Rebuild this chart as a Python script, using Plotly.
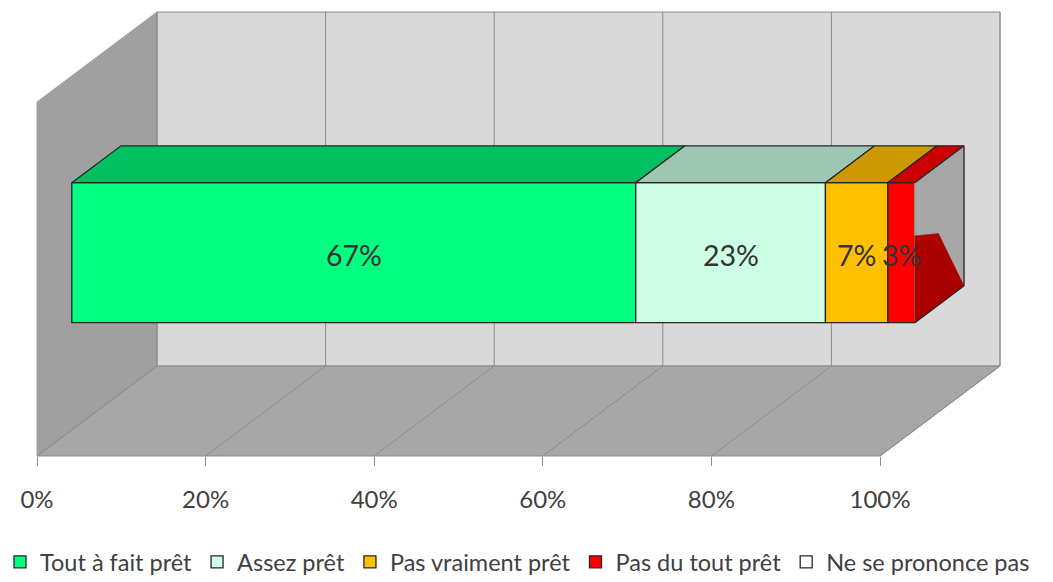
import plotly.graph_objects as go

# ---------------- data ----------------
categories = ["Tout à fait prêt", "Assez prêt", "Pas vraiment prêt",
              "Pas du tout prêt", "Ne se prononce pas"]
values = [66.9, 22.5, 7.4, 3.2, 0.0]
value_labels = ["67%", "23%", "7%", "3%", ""]
tick_vals = [0, 20, 40, 60, 80, 100]
tick_text = ["0%", "20%", "40%", "60%", "80%", "100%"]

# ---------------- style ----------------
front_colors = ["#00FF80", "#CCFFE6", "#FFC000", "#FF0000", "#FFFFFF"]
top_colors = ["#00C060", "#9EC7B3", "#CC9900", "#CC0000", "#DDDDDD"]
FONT = "Lato"
TEXT = "#404040"

W, H = 1053, 582
PX0 = 37.0          # pixel of 0 % on front edge of floor
PXU = 8.43          # pixels per percent
DEPTH_X = 120.0     # pixel shift of the full depth (x)
DEPTH_Y = 90.0      # pixel shift of the full depth (y, upward)
DXU = DEPTH_X / PXU
Y_FLOOR = 456.0     # floor front edge (front plane)
Y_TOP = 102.0       # wall top (front plane)
F_BAR0, F_BAR1 = 0.29, 0.70   # bar depth span
BAR_TOP, BAR_BOT = 182.7, 322.7

def P(v, y, f):
    return v + f * DXU, y - f * DEPTH_Y

x_range = [(0 - PX0) / PXU, (W - PX0) / PXU]
x2_range = [x_range[0] - F_BAR0 * DXU, x_range[1] - F_BAR0 * DXU]

fig = go.Figure()

def poly(pts, fill, line="#8C8C8C", lw=1, xa="x"):
    xs = [p[0] for p in pts] + [pts[0][0]]
    ys = [p[1] for p in pts] + [pts[0][1]]
    fig.add_trace(go.Scatter(x=xs, y=ys, mode="lines", fill="toself",
                             fillcolor=fill, line=dict(color=line, width=lw),
                             xaxis=xa, yaxis="y", showlegend=False,
                             hoverinfo="skip"))

def seg(p, q, color="#8C8C8C", lw=1, xa="x"):
    fig.add_trace(go.Scatter(x=[p[0], q[0]], y=[p[1], q[1]], mode="lines",
                             line=dict(color=color, width=lw), xaxis=xa,
                             yaxis="y", showlegend=False, hoverinfo="skip"))

vmin, vmax = tick_vals[0], tick_vals[-1]
# left wall
poly([P(vmin, Y_FLOOR, 0), P(vmin, Y_TOP, 0), P(vmin, Y_TOP, 1), P(vmin, Y_FLOOR, 1)],
     "#A0A0A0", line="#A0A0A0")
# back wall
poly([P(vmin, Y_FLOOR, 1), P(vmin, Y_TOP, 1), P(vmax, Y_TOP, 1), P(vmax, Y_FLOOR, 1)],
     "#D9D9D9")
# floor
poly([P(vmin, Y_FLOOR, 0), P(vmax, Y_FLOOR, 0), P(vmax, Y_FLOOR, 1), P(vmin, Y_FLOOR, 1)],
     "#A6A6A6")
# gridlines
for v in tick_vals:
    seg(P(v, Y_FLOOR, 1), P(v, Y_TOP, 1))
    seg(P(v, Y_FLOOR, 0), P(v, Y_FLOOR, 1))

# ---------------- bars (front faces) ----------------
bar_mid = (BAR_TOP + BAR_BOT) / 2
starts = []
cum = 0.0
for name, v, c in zip(categories, values, front_colors):
    starts.append(cum)
    fig.add_trace(go.Bar(x=[v], y=[bar_mid], base=[cum], orientation="h",
                         width=BAR_BOT - BAR_TOP, name=name,
                         marker=dict(color=c, line=dict(color="#262626", width=1.3)),
                         xaxis="x2", yaxis="y", hoverinfo="skip"))
    cum += v
total = cum

# top faces
dB = (F_BAR1 - F_BAR0) * DXU
dBy = (F_BAR1 - F_BAR0) * DEPTH_Y
for s, v, c in zip(starts, values, top_colors):
    if v <= 0:
        continue
    e = s + v
    poly([(s, BAR_TOP), (e, BAR_TOP), (e + dB, BAR_TOP - dBy), (s + dB, BAR_TOP - dBy)],
         c, line="#262626", lw=1.3, xa="x2")

# end face
end_pts = [(total, BAR_TOP), (total + dB, BAR_TOP - dBy),
           (total + dB, BAR_BOT - dBy), (total, BAR_BOT)]
poly(end_pts, "#A6A6A6", line="#A6A6A6", lw=1, xa="x2")
hh = BAR_BOT - BAR_TOP
def face(u, t):
    return (total + u * dB, BAR_TOP + t * hh - u * dBy)
poly([face(0, 0.38), face(0.48, 0.49), face(1, 1), face(0, 1)],
     "#AA0000", line="#AA0000", lw=0.5, xa="x2")
seg(end_pts[0], end_pts[1], "#262626", 1.3, "x2")
seg(end_pts[1], end_pts[2], "#262626", 1.3, "x2")
seg(end_pts[2], end_pts[3], "#262626", 1.3, "x2")

# value labels
for s, v, t in zip(starts, values, value_labels):
    if not t:
        continue
    fig.add_annotation(x=s + v / 2, y=bar_mid + 2, xref="x2", yref="y", text=t,
                       showarrow=False, font=dict(family=FONT, size=28.5, color="#333333"))

fig.update_layout(
    width=W, height=H,
    margin=dict(l=0, r=0, t=0, b=0, autoexpand=False),
    paper_bgcolor="white", plot_bgcolor="rgba(0,0,0,0)",
    barmode="overlay",
    showlegend=True,
    legend=dict(orientation="h", x=0, y=(H - 562) / H, xanchor="left",
                yanchor="middle", font=dict(family=FONT, size=23.5, color=TEXT),
                traceorder="normal", bgcolor="rgba(0,0,0,0)"),
    xaxis=dict(range=x_range, anchor="free", position=(H - Y_FLOOR) / H,
               showgrid=False, zeroline=False, showline=False, automargin=False,
               ticks="outside", ticklen=9, tickcolor="#8C8C8C", tickwidth=1,
               tickvals=tick_vals, ticktext=tick_text, ticklabelstandoff=13,
               tickfont=dict(family=FONT, size=24, color=TEXT)),
    xaxis2=dict(range=x2_range, overlaying="x", visible=False),
    yaxis=dict(range=[H, 0], visible=False),
)

fig.write_html("out.html", config={"displayModeBar": False},
               post_script="document.body.style.margin='0';document.body.style.overflow='hidden';")
